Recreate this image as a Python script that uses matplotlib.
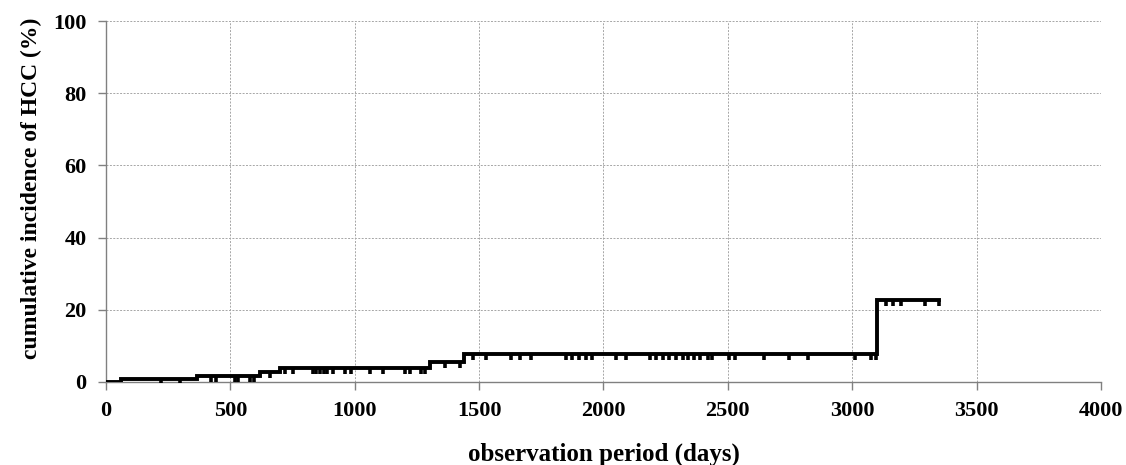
import matplotlib
matplotlib.use("Agg")
import matplotlib.pyplot as plt
import numpy as np

# Step function (Kaplan-Meier style cumulative incidence)
step_days = [0, 60, 366, 619, 699, 1301, 1438, 3098, 3350]
step_pct = [0.0, 0.8, 1.7, 2.9, 4.0, 5.5, 7.7, 22.6, 22.6]

# Censored observations (days)
censor_days = [221, 297, 424, 444, 518, 531, 578, 594, 659,
               719, 752, 831, 845, 860, 875, 888, 913, 960, 987, 1060, 1113,
               1201, 1221, 1268, 1281, 1361, 1422,
               1475, 1529, 1629, 1663, 1710, 1850, 1875, 1900, 1930, 1955,
               2051, 2091, 2185, 2210, 2240, 2265, 2290, 2320, 2340, 2365,
               2390, 2420, 2438, 2505, 2530, 2647, 2747, 2821, 3012, 3075,
               3095, 3135, 3162, 3195, 3293, 3350]

x_ticks = [0, 500, 1000, 1500, 2000, 2500, 3000, 3500, 4000]
y_ticks = [0, 20, 40, 60, 80, 100]

tick_font = {"family": "Liberation Serif", "weight": "bold", "size": 16}
ylabel_font = {"family": "Liberation Serif", "weight": "bold", "size": 17}
xlabel_font = {"family": "Liberation Serif", "weight": "bold", "size": 18}

fig = plt.figure(figsize=(11.26, 4.65), dpi=100)
ax = fig.add_axes([0.0941, 0.1785, 0.8837, 0.7763])

ax.step(step_days, step_pct, where="post", color="black", lw=2.8,
        solid_joinstyle="miter", zorder=3)

def level_at(d):
    idx = np.searchsorted(step_days, d, side="right") - 1
    return step_pct[idx]

cy = [level_at(d) for d in censor_days]
ax.plot(censor_days, cy, linestyle="none", marker=[(0, 0), (0, -1)],
        markersize=8, markeredgewidth=2.6, color="black", zorder=3)

ax.set_xlim(0, 4000)
ax.set_ylim(0, 100)
ax.set_xticks(x_ticks)
ax.set_yticks(y_ticks)
ax.set_xticklabels([str(v) for v in x_ticks], fontdict=tick_font)
ax.set_yticklabels([str(v) for v in y_ticks], fontdict=tick_font)

ax.grid(True, color="#a6a6a6", linestyle=(0, (2, 1.5)), linewidth=0.7)
ax.set_axisbelow(True)
for s in ["top", "right"]:
    ax.spines[s].set_visible(False)
for s in ["left", "bottom"]:
    ax.spines[s].set_color("#808080")
    ax.spines[s].set_linewidth(1.0)
ax.tick_params(axis="both", direction="out", length=6, color="#808080",
               width=1.0, pad=8)

ax.set_xlabel("observation period (days)", fontdict=xlabel_font)
ax.set_ylabel("cumulative incidence of HCC (%)", fontdict=ylabel_font)
ax.xaxis.set_label_coords(0.5, -0.168)
ax.yaxis.set_label_coords(-0.064, 0.537)

fig.savefig("out.png", dpi=100)
